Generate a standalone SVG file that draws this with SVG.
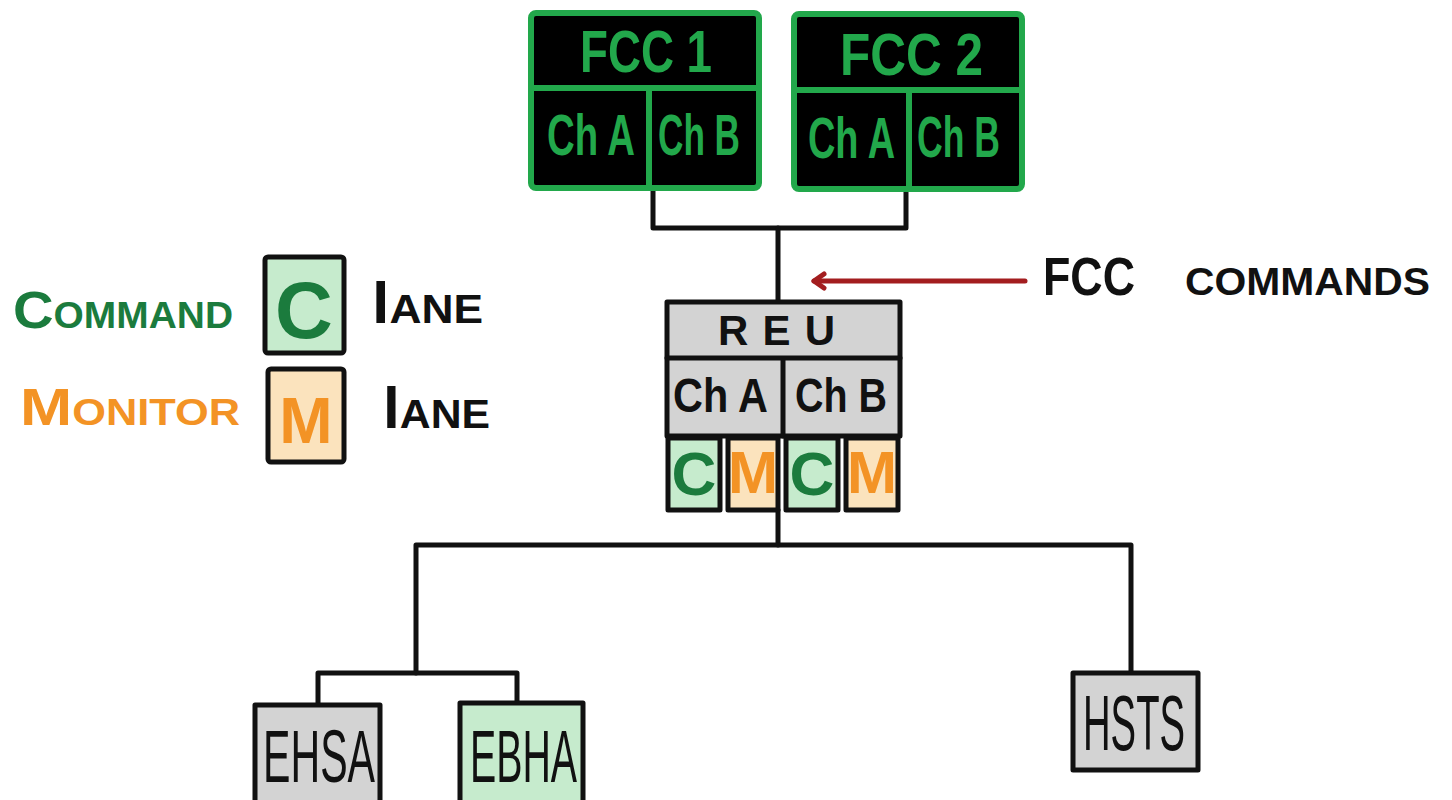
<svg xmlns="http://www.w3.org/2000/svg" width="1452" height="800" viewBox="0 0 1452 800">
<defs>
<style>
.bg{fill:#ffffff}
.fcc{fill:#000000;stroke:#22a84b;stroke-width:6}
.gdiv{stroke:#22a84b;stroke-width:6;fill:none}
.box{stroke:#111111;stroke-width:5;stroke-linejoin:round}
.gray{fill:#d3d3d3}
.lgreen{fill:#c6ebcd}
.lorange{fill:#fbe3bd}
.conn{fill:none;stroke:#111111;stroke-width:5;stroke-linejoin:round;stroke-linecap:round}
.t{font-family:"Liberation Sans",Arial,sans-serif;font-weight:bold}
.tn{font-family:"Liberation Sans",Arial,sans-serif;font-weight:normal}
.gt{fill:#22a84b}
.dg{fill:#1b7b3d}
.or{fill:#f39325}
.bk{fill:#111111}
.sc{font-variant:small-caps}
</style>
<marker id="chev" markerWidth="20" markerHeight="20" refX="13" refY="10" orient="auto" markerUnits="userSpaceOnUse">
<path d="M3,3 L13,10 L3,17" fill="none" stroke="#a31d1f" stroke-width="5" stroke-linecap="round" stroke-linejoin="round"/>
</marker>
</defs>
<rect class="bg" x="0" y="0" width="1452" height="800"/>

<g id="connectors">
<path class="conn" d="M653,188 V228 H906 V190"/>
<path class="conn" d="M778,228 V302"/>
<path class="conn" d="M778,510 V545"/>
<path class="conn" d="M416,673 V545 H1131 V673"/>
<path class="conn" d="M318,705 V673 H517 V703"/>
<path d="M1025,281 H814" fill="none" stroke="#a31d1f" stroke-width="5" stroke-linecap="round" marker-end="url(#chev)"/>
</g>

<g id="fcc1">
<rect class="fcc" x="531" y="13" width="228" height="175" rx="5"/>
<path class="gdiv" d="M533,88 H757 M649,88 V186"/>
<text class="t gt" x="580" y="72" font-size="60" textLength="132" lengthAdjust="spacingAndGlyphs">FCC 1</text>
<text class="t gt" font-size="42" textLength="88" lengthAdjust="spacingAndGlyphs" transform="translate(547,155) scale(1,1.35)">Ch A</text>
<text class="t gt" font-size="42" textLength="82" lengthAdjust="spacingAndGlyphs" transform="translate(658,155) scale(1,1.35)">Ch B</text>
</g>

<g id="fcc2">
<rect class="fcc" x="794" y="14" width="228" height="175" rx="5"/>
<path class="gdiv" d="M796,90 H1020 M909,90 V187"/>
<text class="t gt" x="840" y="75" font-size="60" textLength="143" lengthAdjust="spacingAndGlyphs">FCC 2</text>
<text class="t gt" font-size="42" textLength="87" lengthAdjust="spacingAndGlyphs" transform="translate(808,158) scale(1,1.35)">Ch A</text>
<text class="t gt" font-size="42" textLength="83" lengthAdjust="spacingAndGlyphs" transform="translate(917,157) scale(1,1.35)">Ch B</text>
</g>

<g id="fcc-commands-label">
<text class="t bk sc" y="295" font-size="54"><tspan x="1043" textLength="92" lengthAdjust="spacingAndGlyphs">FCC</tspan> <tspan x="1185" textLength="245" lengthAdjust="spacingAndGlyphs">commands</tspan></text>
</g>

<g id="reu">
<rect class="box gray" x="667" y="302" width="233" height="134"/>
<path class="conn" d="M667,358 H900 M783,358 V436"/>
<text class="t bk" x="718" y="345" font-size="42" textLength="117" lengthAdjust="spacing">REU</text>
<text class="t bk" x="673" y="412" font-size="48" textLength="95" lengthAdjust="spacingAndGlyphs">Ch A</text>
<text class="t bk" x="795" y="412" font-size="48" textLength="92" lengthAdjust="spacingAndGlyphs">Ch B</text>
<rect class="box lgreen" x="668" y="438" width="52" height="72"/>
<rect class="box lorange" x="728" y="438" width="50" height="72"/>
<rect class="box lgreen" x="786" y="438" width="52" height="72"/>
<rect class="box lorange" x="846" y="438" width="52" height="72"/>
<text class="t dg" x="694" y="495" font-size="62" text-anchor="middle">C</text>
<text class="t or" x="753" y="493" font-size="60" text-anchor="middle">M</text>
<text class="t dg" x="812" y="495" font-size="62" text-anchor="middle">C</text>
<text class="t or" x="872" y="493" font-size="60" text-anchor="middle">M</text>
</g>

<g id="legend-command">
<text class="t dg sc" x="13" y="328" font-size="52" textLength="220" lengthAdjust="spacingAndGlyphs">Command</text>
<rect class="box lgreen" x="265" y="257" width="79" height="96" rx="3"/>
<text class="t dg" x="304" y="338" font-size="80" text-anchor="middle">C</text>
<text class="t bk" x="372" y="323" font-size="58" textLength="111" lengthAdjust="spacingAndGlyphs">l<tspan class="sc">ane</tspan></text>
</g>

<g id="legend-monitor">
<text class="t or sc" x="20" y="425" font-size="52" textLength="220" lengthAdjust="spacingAndGlyphs">Monitor</text>
<rect class="box lorange" x="268" y="369" width="76" height="93" rx="3"/>
<text class="t or" x="306" y="443" font-size="64" text-anchor="middle">M</text>
<text class="t bk" x="383" y="428" font-size="58" textLength="107" lengthAdjust="spacingAndGlyphs">l<tspan class="sc">ane</tspan></text>
</g>

<g id="ehsa">
<rect class="box gray" x="255" y="705" width="125" height="110"/>
<text class="tn bk" x="263" y="782" font-size="74" textLength="112" lengthAdjust="spacingAndGlyphs">EHSA</text>
</g>

<g id="ebha">
<rect class="box lgreen" x="460" y="703" width="123" height="112"/>
<text class="tn bk" x="470" y="782" font-size="74" textLength="107" lengthAdjust="spacingAndGlyphs">EBHA</text>
</g>

<g id="hsts">
<rect class="box gray" x="1073" y="673" width="125" height="97"/>
<text class="tn bk" x="1083" y="750" font-size="78" textLength="102" lengthAdjust="spacingAndGlyphs">HSTS</text>
</g>
</svg>
